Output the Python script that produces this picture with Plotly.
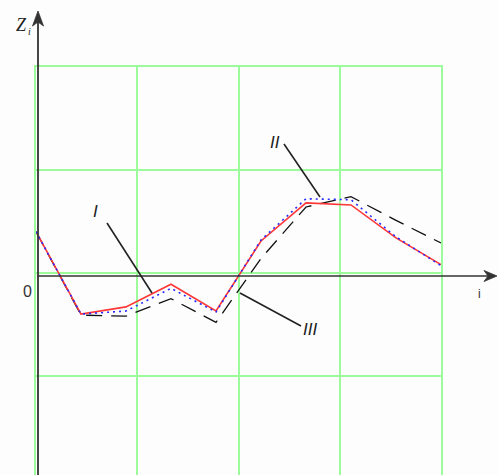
import plotly.graph_objects as go

# ---- data ----
i_vals = [0, 1, 2, 3, 4, 5, 6, 7, 8, 9]
z_I = [0.43, -0.37, -0.30, -0.08, -0.34, 0.34, 0.71, 0.69, 0.37, 0.11]      # red solid
z_II = [0.43, -0.37, -0.34, -0.12, -0.35, 0.35, 0.75, 0.74, 0.38, 0.10]     # blue dotted
z_III = [0.43, -0.38, -0.39, -0.22, -0.45, 0.17, 0.67, 0.77, 0.54, 0.32]    # black dashed
curve_labels = ["I", "II", "III"]

# ---- layout geometry ----
W, H = 498, 475
L, R, T, B = 36, 441, 67, 475   # plot area in pixels


def px(x):
    return (x - L) / (R - L)


def py(y):
    return (B - y) / (B - T)


fig = go.Figure()
fig.add_trace(go.Scatter(x=i_vals, y=z_III, mode="lines",
                         line=dict(color="#111111", width=1.3, dash="16px,9px"),
                         showlegend=False, hoverinfo="skip"))
fig.add_trace(go.Scatter(x=i_vals, y=z_I, mode="lines",
                         line=dict(color="rgb(255,55,55)", width=1.6),
                         showlegend=False, hoverinfo="skip"))
fig.add_trace(go.Scatter(x=i_vals, y=z_II, mode="lines",
                         line=dict(color="rgb(40,40,255)", width=1.6, dash="2px,4px"),
                         showlegend=False, hoverinfo="skip"))

grid = "#9cfc9c"
fig.update_xaxes(range=[0, 9], tick0=0, dtick=2.25, showgrid=True, gridcolor=grid,
                 gridwidth=1.5, showticklabels=False, zeroline=False, ticks="",
                 showline=True, mirror=True, linecolor=grid, linewidth=1.5)
fig.update_yaxes(range=[-1.932, 2.029], tick0=0.032, dtick=1, showgrid=True,
                 gridcolor=grid, gridwidth=1.5, showticklabels=False, zeroline=False,
                 ticks="", showline=True, mirror=True, linecolor=grid, linewidth=1.5)

axis_col = "#333333"
shapes = []
# coordinate axes (lines + arrowheads)
shapes.append(dict(type="line", xref="paper", yref="paper", layer="above",
                   x0=px(37), y0=py(276), x1=px(488), y1=py(276),
                   line=dict(color=axis_col, width=1.6)))
shapes.append(dict(type="line", xref="paper", yref="paper", layer="above",
                   x0=px(38), y0=py(476), x1=px(38), y1=py(20),
                   line=dict(color=axis_col, width=1.8)))


def tri(points):
    return "M " + " L ".join(f"{px(a):.5f},{py(b):.5f}" for a, b in points) + " Z"


shapes.append(dict(type="path", xref="paper", yref="paper", layer="above",
                   path=tri([(497, 276), (484, 270.5), (488, 276), (484, 281.5)]),
                   fillcolor=axis_col, line=dict(color=axis_col, width=0.8)))
shapes.append(dict(type="path", xref="paper", yref="paper", layer="above",
                   path=tri([(38, 11), (32.5, 26), (38, 22), (43.5, 26)]),
                   fillcolor=axis_col, line=dict(color=axis_col, width=0.8)))

leaders = [((107, 223), (152, 293)), ((284, 144), (320, 197)), ((240, 293), (301, 326))]
for (x0, y0), (x1, y1) in leaders:
    shapes.append(dict(type="line", xref="paper", yref="paper",
                       x0=px(x0), y0=py(y0), x1=px(x1), y1=py(y1),
                       line=dict(color="#222222", width=1.6)))

serif = "Liberation Serif"
sans = "Liberation Sans"


def label(x, y, text, family, size, color="#222"):
    return dict(x=px(x), y=py(y), xref="paper", yref="paper", text=text,
                xanchor="center", yanchor="middle", showarrow=False,
                font=dict(family=family, size=size, color=color))


ann = [
    label(21, 25, "<i>Z</i>", serif, 18),
    label(29.5, 31, "<i>i</i>", serif, 10),
    label(27.5, 291, "0", sans, 16, "#333"),
    label(479, 294, "i", sans, 12, "#333"),
]
label_pos = [(95, 211), (275, 142), (310, 329)]
for lab, (lx, ly) in zip(curve_labels, label_pos):
    ann.append(label(lx, ly, "<i>" + lab + "</i>", sans, 17))

fig.update_layout(width=W, height=H, margin=dict(l=L, r=W - R, t=T, b=H - B),
                  paper_bgcolor="#fdfdfd", plot_bgcolor="#fdfdfd",
                  annotations=ann, shapes=shapes, showlegend=False)

fig.write_html("out.html", post_script="document.body.style.margin='0';",
               config={"displayModeBar": False})
